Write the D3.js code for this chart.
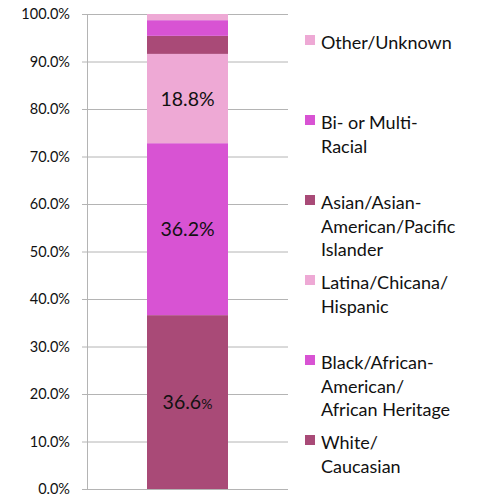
<!DOCTYPE html>
<html lang="en">
<head>
<meta charset="utf-8">
<title>Stacked ethnicity bar</title>
<script src="https://d3js.org/d3.v7.min.js"></script>
<style>
  body { margin: 0; background: #fff; }
  text { font-family: Lato, "Open Sans", sans-serif; fill: #111; }
</style>
</head>
<body>
<script>
// data, bottom to top of the stack
var categories = ["White/Caucasian", "Black/African-American/African Heritage", "Latina/Chicana/Hispanic",
                  "Asian/Asian-American/Pacific Islander", "Bi- or Multi-Racial", "Other/Unknown"];
var values = [36.6, 36.2, 18.8, 3.8, 3.3, 1.3];
var shownLabels = ["36.6%", "36.2%", "18.8%", null, null, null];
var colors = ["#a94a77", "#d853d3", "#eea9d5", "#a94a77", "#d853d3", "#eea9d5"];
// legend lines, top to bottom
var legendLines = [
  ["Other/Unknown"],
  ["Bi- or Multi-", "Racial"],
  ["Asian/Asian-", "American/Pacific", "Islander"],
  ["Latina/Chicana/", "Hispanic"],
  ["Black/African-", "American/", "African Heritage"],
  ["White/", "Caucasian"]
];
var legendColors = ["#eea9d5", "#d853d3", "#a94a77", "#eea9d5", "#d853d3", "#a94a77"];
var ticks = d3.range(0, 101, 10);

var W = 481, H = 498;
var svg = d3.select("body").append("svg").attr("width", W).attr("height", H);

var x0 = 87, x1 = 288;
var y = d3.scaleLinear().domain([0, 100]).range([489, 14]);

// gridlines + ticks
svg.append("g").selectAll("line").data(ticks).enter().append("line")
  .attr("x1", x0 - 5).attr("x2", x1)
  .attr("y1", function(d) { return y(d) + 0.5; })
  .attr("y2", function(d) { return y(d) + 0.5; })
  .attr("stroke", "#b4b4b4").attr("stroke-width", 1);

svg.append("line").attr("x1", x0 + 0.5).attr("x2", x0 + 0.5)
  .attr("y1", y(100)).attr("y2", y(0)).attr("stroke", "#b4b4b4");

svg.append("g").selectAll("text").data(ticks).enter().append("text")
  .attr("x", 70).attr("y", function(d) { return y(d); })
  .attr("dy", "0.36em").attr("text-anchor", "end")
  .style("font-size", "14.5px")
  .text(function(d) { return d.toFixed(1) + "%"; });

// stacked segments
var stack = [];
var acc = 0;
values.forEach(function(v, i) {
  stack.push({lo: acc, hi: acc + v, color: colors[i], label: shownLabels[i]});
  acc += v;
});

var bx = 147, bw = 81;
svg.append("g").selectAll("rect").data(stack).enter().append("rect")
  .attr("x", bx).attr("width", bw)
  .attr("y", function(d) { return y(d.hi); })
  .attr("height", function(d) { return y(d.lo) - y(d.hi); })
  .attr("fill", function(d) { return d.color; });

var lab = svg.append("g").selectAll("text").data(stack.filter(function(d) { return d.label; }))
  .enter().append("text")
  .attr("x", bx + bw / 2)
  .attr("y", function(d) { return (y(d.lo) + y(d.hi)) / 2; })
  .attr("dy", "0.36em").attr("text-anchor", "middle")
  .style("font-size", "19.5px");
lab.each(function(d, i) {
  var t = d3.select(this);
  if (i === 0) {
    t.append("tspan").text(d.label.slice(0, -1));
    t.append("tspan").style("font-size", "14px").text("%");
  } else {
    t.text(d.label);
  }
});

// legend
var lg = svg.append("g").selectAll("g").data(legendLines).enter().append("g")
  .attr("transform", function(d, i) { return "translate(305," + (43 + i * 80) + ")"; });
lg.append("rect").attr("x", 0).attr("y", -8).attr("width", 10).attr("height", 10)
  .attr("fill", function(d, i) { return legendColors[i]; });
lg.each(function(lines) {
  var g = d3.select(this);
  lines.forEach(function(s, k) {
    g.append("text").attr("x", 16).attr("y", k * 23.5).attr("dy", "0.36em")
      .style("font-size", "18px").text(s);
  });
});
</script>
</body>
</html>
